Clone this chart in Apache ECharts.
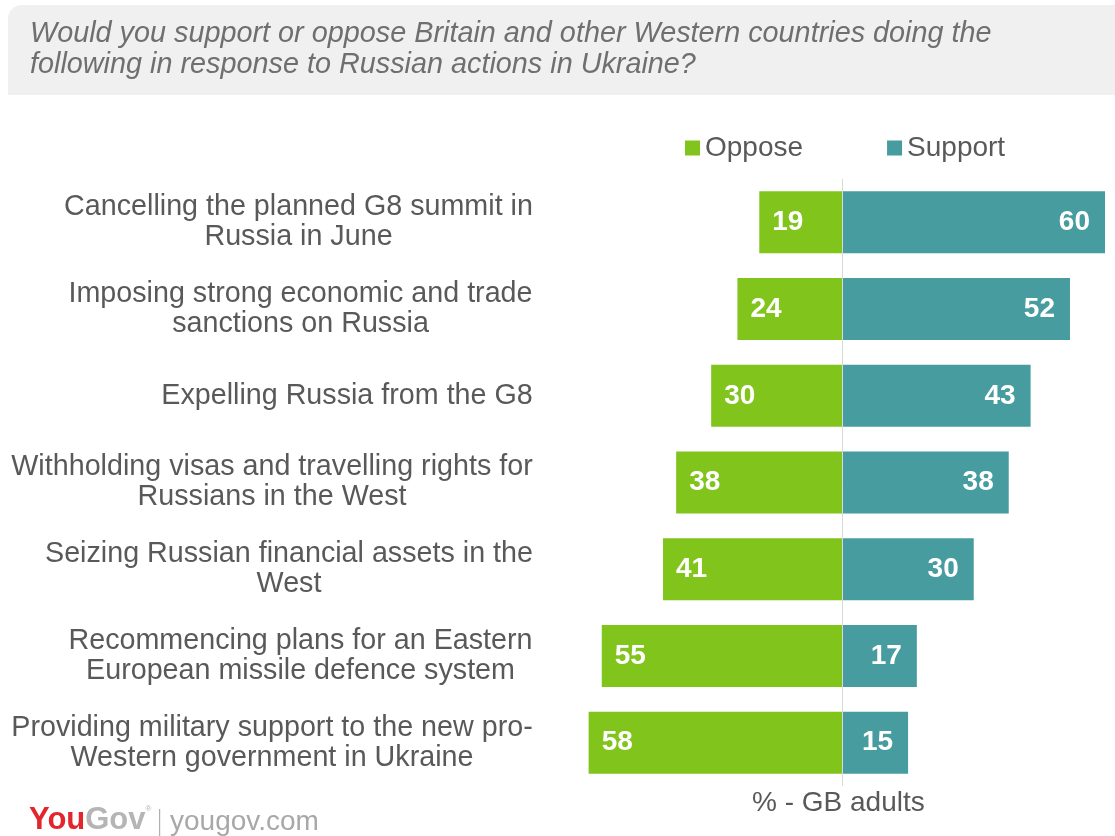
<!DOCTYPE html>
<html>
<head>
<meta charset="utf-8">
<script src="https://cdn.jsdelivr.net/npm/echarts@6/dist/echarts.min.js"></script>
<style>html,body{margin:0;padding:0;background:#fff}#c{width:1115px;height:836px}</style>
</head>
<body>
<div id="c"></div>
<script>
const categories = [
  'Cancelling the planned G8 summit in\nRussia in June',
  'Imposing strong economic and trade\nsanctions on Russia',
  'Expelling Russia from the G8',
  'Withholding visas and travelling rights for\nRussians in the West',
  'Seizing Russian financial assets in the\nWest',
  'Recommencing plans for an Eastern\nEuropean missile defence system',
  'Providing military support to the new pro-\nWestern government in Ukraine'
];
const opposeValues = [19, 24, 30, 38, 41, 55, 58];
const supportValues = [60, 52, 43, 38, 30, 17, 15];

const FONT = '"Liberation Sans", Arial, sans-serif';
const FS = 28;
const CFS = 28.7;
const cv = document.createElement('canvas').getContext('2d');
cv.font = CFS + 'px ' + FONT;
function blockWidth(s) {
  return Math.ceil(Math.max.apply(null, s.split('\n').map(l => cv.measureText(l).width)));
}
const rich = {};
categories.forEach((c, i) => {
  rich['l' + i] = { width: blockWidth(c), align: 'center', fontSize: CFS, fontFamily: FONT, color: '#595959', lineHeight: 30 };
});

const chart = echarts.init(document.getElementById('c'));
chart.setOption({
  animation: false,
  backgroundColor: '#fff',
  graphic: [
    { type: 'rect', left: 8, top: 5, shape: { width: 1107, height: 90, r: [14, 0, 0, 0] }, style: { fill: '#f0f0f0' }, z: -1 },
    { type: 'text', left: 30, top: 18, style: { text: 'Would you support or oppose Britain and other Western countries doing the\nfollowing in response to Russian actions in Ukraine?', font: 'italic 28.8px ' + FONT, fill: '#6f6f6f', lineHeight: 31 } },
    { type: 'text', left: 752, top: 789, style: { text: '% - GB adults', font: '28px ' + FONT, fill: '#595959' } },
    { type: 'text', left: 29, top: 805, style: { text: '{r|You}{g|Gov}{s|®}', rich: { r: { font: 'bold 31px ' + FONT, fill: '#e3262d' }, g: { font: 'bold 31px ' + FONT, fill: '#b5b5b5' }, s: { font: '8px ' + FONT, fill: '#b5b5b5', verticalAlign: 'top' } } } },
    { type: 'rect', left: 159, top: 809, shape: { width: 1.2, height: 27 }, style: { fill: '#b0b0b0' } },
    { type: 'text', left: 170, top: 808, style: { text: 'yougov.com', font: '28px ' + FONT, fill: '#a8a8a8' } }
  ],
  legend: {
    top: 129, left: 680,
    itemWidth: 15, itemHeight: 15, itemGap: 84,
    icon: 'rect',
    textStyle: { fontSize: FS, color: '#595959', fontFamily: FONT },
    data: ['Oppose', 'Support']
  },
  grid: { left: 558, right: 10, top: 179, bottom: 50, containLabel: false, outerBoundsMode: 'none' },
  xAxis: {
    type: 'value', min: -65, max: 60,
    axisLine: { show: false }, axisTick: { show: false }, axisLabel: { show: false }, splitLine: { show: false }
  },
  yAxis: {
    type: 'category', inverse: true, data: categories,
    axisLine: { show: false, onZero: false }, axisTick: { show: false },
    axisLabel: {
      margin: 25, align: 'right', fontSize: CFS, color: '#595959', fontFamily: FONT, lineHeight: 30,
      formatter: (v, i) => v.split('\n').map(l => '{l' + i + '|' + l + '}').join('\n'),
      rich: rich
    }
  },
  series: [
    {
      name: 'Oppose', type: 'bar', stack: 'a', barWidth: 62,
      itemStyle: { color: '#80c41c' },
      data: opposeValues.map(v => -v),
      label: { show: true, position: 'insideLeft', distance: 13, color: '#fff', fontSize: FS, fontWeight: 'bold', fontFamily: FONT, formatter: p => Math.abs(p.value) },
      markLine: {
        silent: true, symbol: 'none', label: { show: false },
        lineStyle: { color: '#d9d9d9', width: 1, type: 'solid' },
        data: [{ xAxis: 0 }]
      }
    },
    {
      name: 'Support', type: 'bar', stack: 'a', barWidth: 62,
      itemStyle: { color: '#469c9f' },
      data: supportValues,
      label: { show: true, position: 'insideRight', distance: 15, color: '#fff', fontSize: FS, fontWeight: 'bold', fontFamily: FONT }
    }
  ]
});
</script>
</body>
</html>
